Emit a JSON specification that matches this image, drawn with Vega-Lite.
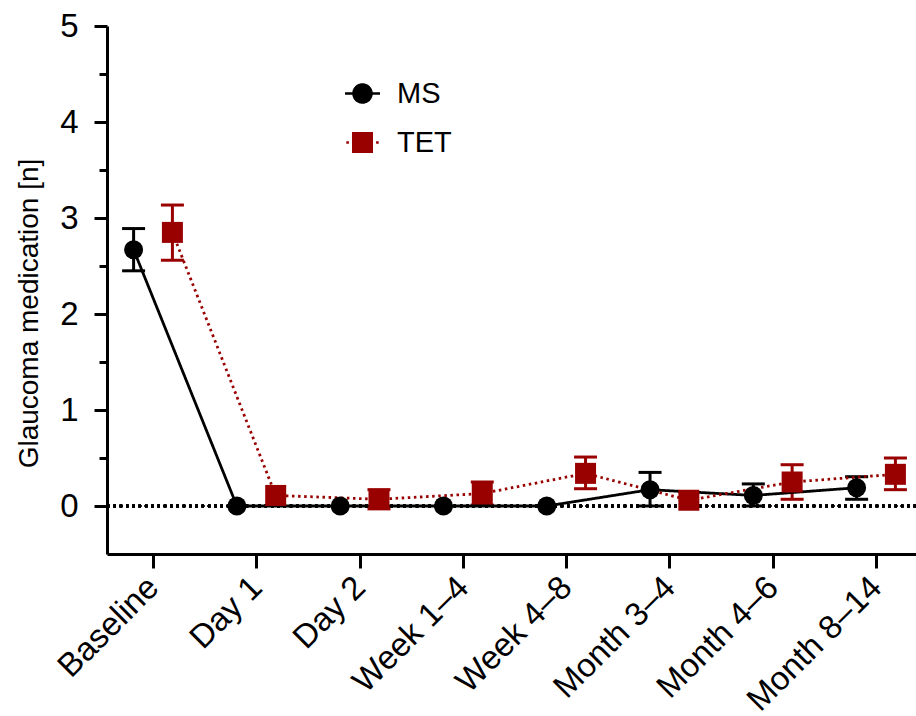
{
  "$schema": "https://vega.github.io/schema/vega-lite/v6.json",
  "width": 809,
  "height": 528,
  "autosize": {"type": "none"},
  "padding": {"left": 107, "top": 26, "right": 0, "bottom": 162},
  "background": "white",
  "config": {
    "view": {"stroke": null},
    "font": "Liberation Sans",
    "axis": {"grid": false, "domainColor": "black", "tickColor": "black", "labelColor": "black", "titleColor": "black", "labelFont": "Liberation Sans", "titleFont": "Liberation Sans", "domainWidth": 3, "tickWidth": 3},
    "axisY": {"titleFontSize": 28, "titleFontWeight": "normal", "titlePadding": 16, "labelFontSize": 33, "labelPadding": 16, "titleY": 287},
    "axisX": {"labelFontSize": 33, "labelPadding": 14, "tickSize": 14},
    "tick": {"opacity": 1}
  },
  "data": {
    "values": [
      {"time": "Baseline", "series": "MS", "mean": 2.67, "lo": 2.45, "hi": 2.89},
      {"time": "Day 1", "series": "MS", "mean": 0, "lo": null, "hi": null},
      {"time": "Day 2", "series": "MS", "mean": 0, "lo": null, "hi": null},
      {"time": "Week 1–4", "series": "MS", "mean": 0, "lo": null, "hi": null},
      {"time": "Week 4–8", "series": "MS", "mean": 0, "lo": null, "hi": null},
      {"time": "Month 3–4", "series": "MS", "mean": 0.17, "lo": 0.0, "hi": 0.35},
      {"time": "Month 4–6", "series": "MS", "mean": 0.11, "lo": 0.0, "hi": 0.23},
      {"time": "Month 8–14", "series": "MS", "mean": 0.19, "lo": 0.07, "hi": 0.305},
      {"time": "Baseline", "series": "TET", "mean": 2.85, "lo": 2.56, "hi": 3.135},
      {"time": "Day 1", "series": "TET", "mean": 0.11, "lo": null, "hi": null},
      {"time": "Day 2", "series": "TET", "mean": 0.07, "lo": -0.03, "hi": 0.17},
      {"time": "Week 1–4", "series": "TET", "mean": 0.13, "lo": 0.01, "hi": 0.25},
      {"time": "Week 4–8", "series": "TET", "mean": 0.34, "lo": 0.18, "hi": 0.51},
      {"time": "Month 3–4", "series": "TET", "mean": 0.06, "lo": null, "hi": null},
      {"time": "Month 4–6", "series": "TET", "mean": 0.25, "lo": 0.07, "hi": 0.43},
      {"time": "Month 8–14", "series": "TET", "mean": 0.33, "lo": 0.17, "hi": 0.5}
    ]
  },
  "encoding": {
    "x": {
      "field": "time", "type": "nominal",
      "sort": ["Baseline", "Day 1", "Day 2", "Week 1–4", "Week 4–8", "Month 3–4", "Month 4–6", "Month 8–14"],
      "scale": {"type": "point", "padding": 0.4163, "align": 0.535, "round": false},
      "axis": {"title": null, "labelAngle": -45, "labelAlign": "right", "labelBaseline": "middle"}
    },
    "xOffset": {"field": "series", "type": "nominal", "scale": {"type": "point", "domain": ["MS", "TET"], "range": [-19.4, 19.4], "padding": 0}},
    "y": {"field": "mean", "type": "quantitative", "scale": {"domain": [-0.5, 5], "nice": false, "zero": false},
      "axis": {"title": "Glaucoma medication [n]",
        "values": [0, 0.5, 1, 1.5, 2, 2.5, 3, 3.5, 4, 4.5, 5],
        "labelExpr": "datum.value % 1 === 0 ? format(datum.value, 'd') : ''",
        "tickSize": {"condition": {"test": "datum.value % 1 === 0", "value": 13}, "value": 8}}},
    "color": {"field": "series", "type": "nominal", "scale": {"domain": ["MS", "TET"], "range": ["black", "#990000"]},
      "legend": {
        "title": null, "orient": "none", "legendX": 241, "legendY": 53,
        "labelFontSize": 29, "labelFont": "Liberation Sans", "labelColor": "black", "labelOffset": 20,
        "symbolSize": 400, "rowPadding": 19, "padding": 0,
        "encode": {
          "symbols": {
            "update": {
              "shape": {"signal": "datum.value === 'MS' ? 'M-1.75,0H1.75M-0.9,0A0.9,0.9,0,1,1,0.9,0A0.9,0.9,0,1,1,-0.9,0Z' : 'M-1.05,-1.05H1.05V1.05H-1.05Z M-1.62,-0.13H-1.36V0.13H-1.62Z M1.36,-0.13H1.62V0.13H1.36Z'"},
              "fill": {"signal": "datum.value === 'MS' ? 'black' : '#990000'"},
              "stroke": {"signal": "datum.value === 'MS' ? 'black' : '#990000'"},
              "strokeWidth": {"signal": "datum.value === 'MS' ? 2.5 : 0"},
              "strokeDash": {"signal": "[1, 0]"},
              "size": {"value": 400},
              "opacity": {"value": 1},
              "fillOpacity": {"value": 1}
            }
          }
        }
      }}
  },
  "layer": [
    {
      "mark": {"type": "rule", "color": "black", "strokeDash": [2.5, 3.8], "strokeWidth": 2.5},
      "encoding": {"y": {"datum": 0, "type": "quantitative"}, "x": null, "xOffset": null, "color": null}
    },
    {
      "mark": {"type": "rule", "strokeWidth": 3},
      "encoding": {
        "y": {"field": "lo", "type": "quantitative"},
        "y2": {"field": "hi"}
      }
    },
    {
      "mark": {"type": "tick", "orient": "horizontal", "size": 23, "thickness": 3, "opacity": 1},
      "encoding": {"y": {"field": "lo", "type": "quantitative"}}
    },
    {
      "mark": {"type": "tick", "orient": "horizontal", "size": 23, "thickness": 3, "opacity": 1},
      "encoding": {"y": {"field": "hi", "type": "quantitative"}}
    },
    {
      "mark": {"type": "line", "strokeWidth": 2.8, "strokeCap": "butt"},
      "encoding": {
        "strokeDash": {"field": "series", "type": "nominal", "scale": {"domain": ["MS", "TET"], "range": [[1, 0], [2.5, 3.6]]}, "legend": null}
      }
    },
    {
      "transform": [{"filter": "datum.series === 'MS'"}],
      "mark": {"type": "point", "shape": "circle", "filled": true, "opacity": 1, "size": 360}
    },
    {
      "transform": [{"filter": "datum.series === 'TET'"}],
      "mark": {"type": "point", "shape": "square", "filled": true, "opacity": 1, "size": 441}
    }
  ]
}
